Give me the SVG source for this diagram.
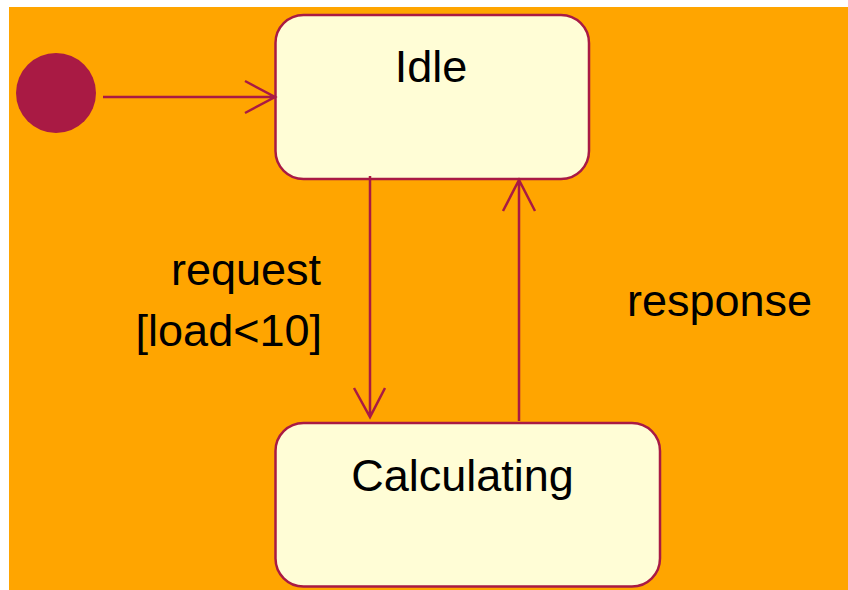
<svg xmlns="http://www.w3.org/2000/svg" width="848" height="590" viewBox="0 0 848 590">
  <style>
    .state { fill: #FFFDD6; stroke: #A91A44; stroke-width: 2.5; }
    .lbl { font-family: "Liberation Sans", Arial, sans-serif; font-size: 45px; fill: #000; }
    .edge { stroke: #A91A44; stroke-width: 2.5; fill: none; }
  </style>
  <rect x="0" y="0" width="848" height="590" fill="#FFFFFF"/>
  <rect x="9" y="7" width="839" height="583" fill="#FFA500"/>
  <g id="initial">
    <circle cx="56" cy="93" r="40" fill="#A91A44"/>
  </g>
  <g id="idle">
    <rect class="state" x="275.5" y="15" width="313.5" height="164" rx="28" ry="28"/>
    <text class="lbl" x="431" y="82" text-anchor="middle">Idle</text>
  </g>
  <g id="calculating">
    <rect class="state" x="275.5" y="423" width="384.5" height="163.5" rx="28" ry="28"/>
    <text class="lbl" x="462.5" y="490.5" text-anchor="middle">Calculating</text>
  </g>
  <g id="connectors">
    <path class="edge" d="M103 97 H275 M245 81 L275 97 L245 113"/>
    <path class="edge" d="M370 176 V417 M354 388 L370 417 L385 388"/>
    <path class="edge" d="M519 421 V180 M503 211 L519 180 L535 211"/>
    <text class="lbl" x="321" y="285" text-anchor="end">request</text>
    <text class="lbl" x="322" y="346" text-anchor="end">[load&lt;10]</text>
    <text class="lbl" x="627" y="316">response</text>
  </g>
</svg>
